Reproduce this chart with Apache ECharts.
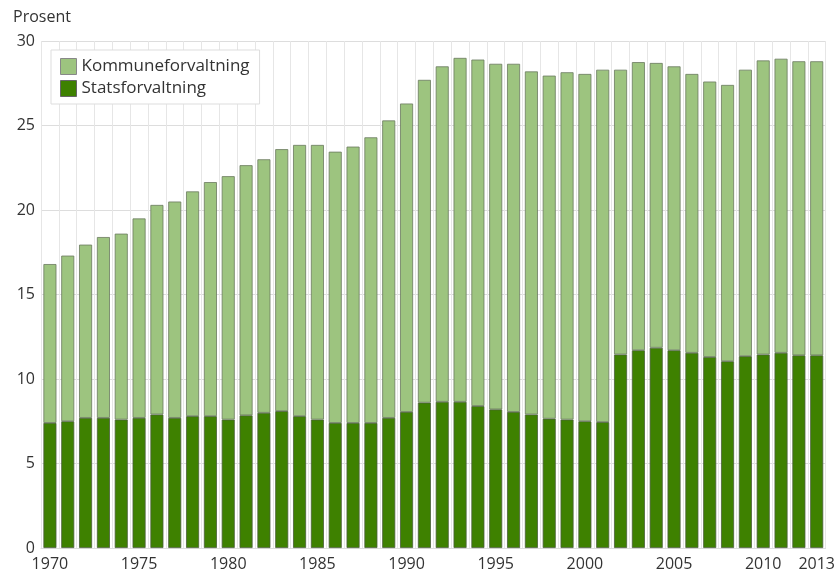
<!DOCTYPE html>
<html><head><meta charset="utf-8">
<script src="https://cdn.jsdelivr.net/npm/echarts@6/dist/echarts.min.js"></script>
<style>html,body{margin:0;padding:0;background:#fff}#c{width:838px;height:574px}</style>
</head><body><div id="c"></div>
<script>
const years = [];
for (let y = 1970; y <= 2013; y++) years.push(String(y));
const stat = [7.4,7.5,7.7,7.7,7.6,7.7,7.9,7.7,7.8,7.8,7.6,7.85,8.0,8.1,7.8,7.6,7.4,7.4,7.4,7.7,8.05,8.6,8.65,8.65,8.4,8.2,8.05,7.9,7.65,7.6,7.5,7.45,11.45,11.7,11.85,11.7,11.55,11.3,11.05,11.35,11.45,11.55,11.4,11.4];
const total = [16.8,17.3,17.95,18.4,18.6,19.5,20.3,20.5,21.1,21.65,22.0,22.65,23.0,23.6,23.85,23.85,23.45,23.75,24.3,25.3,26.3,27.7,28.5,29.0,28.9,28.65,28.65,28.2,27.95,28.15,28.05,28.3,28.3,28.75,28.7,28.5,28.05,27.6,27.4,28.3,28.85,28.95,28.8,28.8];
const kommune = total.map((t, i) => +(t - stat[i]).toFixed(2));
const yTicks = [0, 5, 10, 15, 20, 25, 30];

const chart = echarts.init(document.getElementById('c'));
const font = '"Open Sans", sans-serif';
chart.setOption({
  animation: false,
  textStyle: { fontFamily: font },
  grid: { left: 41, right: 12, top: 41, bottom: 26 },
  legend: {
    left: 51, top: 50, orient: 'vertical', icon: 'rect',
    itemWidth: 16, itemHeight: 16, itemGap: 5, itemTextGap: 6,
    padding: [8, 10, 7, 9],
    backgroundColor: '#ffffff',
    borderColor: '#dddddd', borderWidth: 1,
    textStyle: { fontFamily: font, fontSize: 17, color: '#333' },
    data: [
      { name: 'Kommuneforvaltning', itemStyle: { color: '#9dc47f', borderColor: '#888', borderWidth: 1 } },
      { name: 'Statsforvaltning', itemStyle: { color: '#3e8100', borderColor: '#666', borderWidth: 1 } }
    ]
  },
  xAxis: {
    type: 'category', data: years,
    axisLine: { show: true, lineStyle: { color: '#dddddd' } },
    axisTick: { show: false },
    axisLabel: {
      interval: 0,
      formatter: (v, i) => (i % 5 === 0 || i === years.length - 1) ? v : '',
      fontFamily: font, fontSize: 16, color: '#333', margin: 8
    },
    splitLine: { show: true, interval: 0, lineStyle: { color: '#e6e6e6' } }
  },
  yAxis: {
    type: 'value', min: 0, max: 30, interval: 5,
    name: 'Prosent', nameLocation: 'end', nameGap: 16,
    nameTextStyle: { fontFamily: font, fontSize: 16, color: '#333', align: 'left', padding: [0, 0, 0, -28] },
    axisLine: { show: false }, axisTick: { show: false },
    axisLabel: { fontFamily: font, fontSize: 16, color: '#333', margin: 6,
      formatter: v => yTicks.includes(v) ? String(v) : '' },
    splitLine: { lineStyle: { color: '#dddddd' } }
  },
  series: [
    { name: 'Statsforvaltning', type: 'bar', stack: 's', data: stat, barWidth: 13,
      itemStyle: { color: '#3e8100', borderColor: '#4a5e3a', borderWidth: 0.8 } },
    { name: 'Kommuneforvaltning', type: 'bar', stack: 's', data: kommune, barWidth: 13,
      itemStyle: { color: '#9dc47f', borderColor: '#6b7a5f', borderWidth: 0.8 } }
  ]
});
</script></body></html>
